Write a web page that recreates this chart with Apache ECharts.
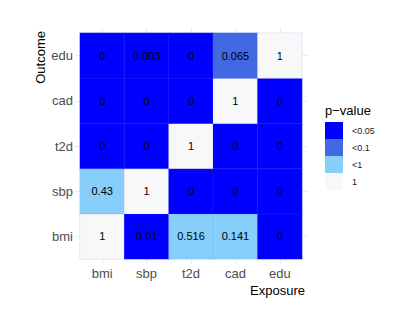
<!DOCTYPE html>
<html><head><meta charset="utf-8">
<script src="https://cdn.jsdelivr.net/npm/echarts@6/dist/echarts.min.js"></script>
<style>html,body{margin:0;padding:0;background:#fff}#c{width:411px;height:327px}</style>
</head><body><div id="c"></div>
<script>
const exposures = ['bmi', 'sbp', 't2d', 'cad', 'edu'];
const outcomes = ['bmi', 'sbp', 't2d', 'cad', 'edu'];
// p-values per outcome row, columns follow exposures
const pBmi = [1, 0.01, 0.516, 0.141, 0];
const pSbp = [0.43, 1, 0, 0, 0];
const pT2d = [0, 0, 1, 0, 0];
const pCad = [0, 0, 0, 1, 0];
const pEdu = [0, 0.003, 0, 0.065, 1];
const pRows = [pBmi, pSbp, pT2d, pCad, pEdu];
const legendLabels = ['<0.05', '<0.1', '<1', '1'];
const legendColors = ['#0000FF', '#4169E1', '#87CEFA', '#F8F8F8'];

const data = [];
pRows.forEach((row, yi) => row.forEach((v, xi) => data.push([xi, yi, v])));

const font = 'Liberation Sans, Arial, Helvetica, sans-serif';
const chart = echarts.init(document.getElementById('c'), null, {renderer: 'svg'});
const tickStyle = {show: true, alignWithLabel: true, inside: false, length: 5, lineStyle: {color: '#EBEBEB', width: 1}};
chart.setOption({
  animation: false,
  grid: {left: 80, top: 33, width: 222, height: 226, containLabel: false},
  xAxis: [
    {type: 'category', data: exposures, position: 'bottom',
     axisLine: {show: false}, axisTick: tickStyle, splitLine: {show: false},
     axisLabel: {color: '#4D4D4D', fontSize: 13, fontFamily: font, margin: 8}},
    {type: 'category', data: exposures, position: 'top',
     axisLine: {show: false}, axisTick: tickStyle, axisLabel: {show: false}, splitLine: {show: false}}
  ],
  yAxis: [
    {type: 'category', data: outcomes, position: 'left',
     axisLine: {show: false}, axisTick: tickStyle, splitLine: {show: false},
     axisLabel: {color: '#4D4D4D', fontSize: 13, fontFamily: font, margin: 7}},
    {type: 'category', data: outcomes, position: 'right',
     axisLine: {show: false}, axisTick: tickStyle, axisLabel: {show: false}, splitLine: {show: false}}
  ],
  visualMap: {
    type: 'piecewise', dimension: 2, seriesIndex: 0,
    left: 325, top: 122, orient: 'vertical', align: 'left', inverse: true, padding: 0,
    itemWidth: 18, itemHeight: 17, itemGap: 0, itemSymbol: 'rect', textGap: 9,
    selectedMode: false, hoverLink: false,
    textStyle: {color: '#1A1A1A', fontSize: 9, fontFamily: font},
    pieces: [
      {lt: 0.05, label: legendLabels[0], color: legendColors[0]},
      {gte: 0.05, lt: 0.1, label: legendLabels[1], color: legendColors[1]},
      {gte: 0.1, lt: 1, label: legendLabels[2], color: legendColors[2]},
      {gte: 1, label: legendLabels[3], color: legendColors[3]}
    ]
  },
  graphic: [
    {type: 'text', left: 325, top: 104, style: {text: 'p\u2212value', fontSize: 13, fontFamily: font, fill: '#000'}},
    {type: 'text', right: 106, top: 284, style: {text: 'Exposure', fontSize: 13, fontFamily: font, fill: '#000'}},
    {type: 'text', left: 34, top: 31, rotation: Math.PI / 2, style: {text: 'Outcome', fontSize: 13, fontFamily: font, fill: '#000', align: 'right', verticalAlign: 'top'}}
  ],
  series: [{
    type: 'heatmap', xAxisIndex: 0, yAxisIndex: 0, data: data,
    itemStyle: {borderColor: 'rgba(120,120,255,0.3)', borderWidth: 0.5},
    label: {show: true, color: '#000', fontSize: 11, fontFamily: font,
            formatter: p => String(p.value[2])},
    emphasis: {disabled: true}
  }]
});
</script></body></html>
